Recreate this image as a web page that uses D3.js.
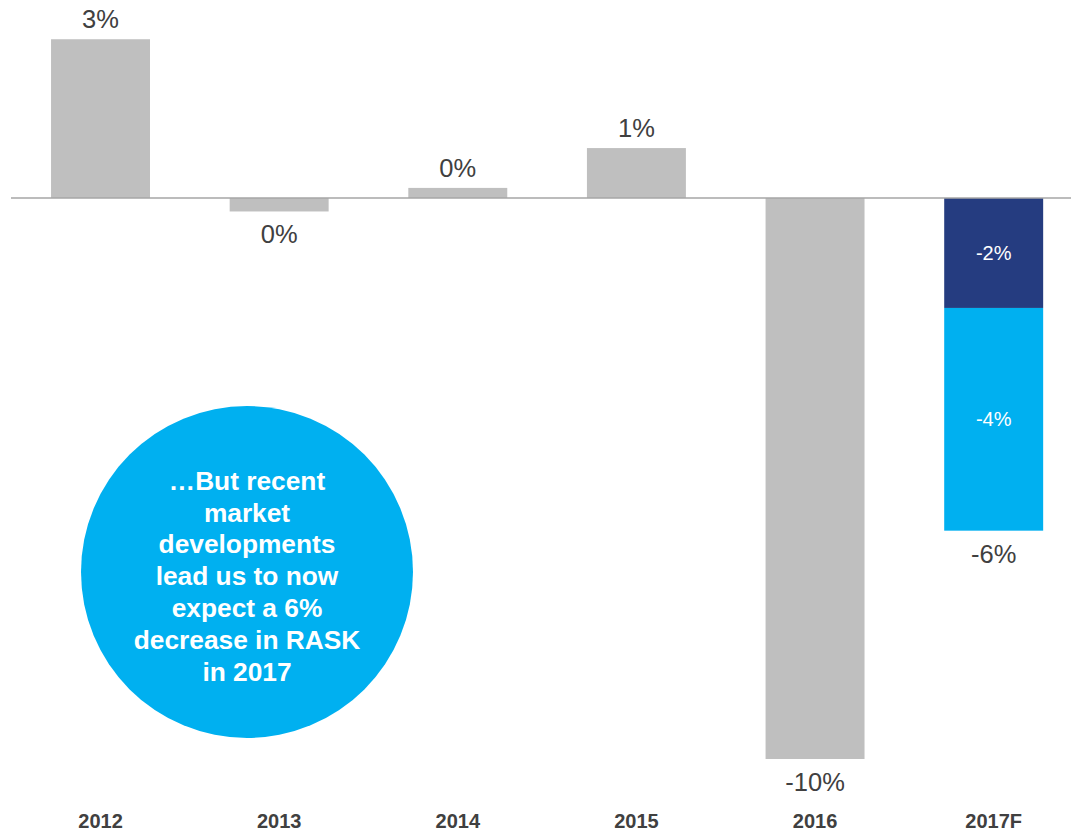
<!DOCTYPE html>
<html>
<head>
<meta charset="utf-8">
<script src="https://cdn.jsdelivr.net/npm/d3@7"></script>
<style>
  html, body { margin: 0; padding: 0; background: #ffffff; }
  svg { display: block; font-family: "Liberation Sans", Arial, sans-serif; }
</style>
</head>
<body>
<svg id="chart" width="1071" height="832"></svg>
<script>
// RASK development by year (%, change)
const years = ["2012", "2013", "2014", "2015", "2016", "2017F"];
const actualValues = [2.83, -0.24, 0.18, 0.89, -10.0, null];
// 2017 forecast split into two components
const forecastYear = "2017F";
const forecastParts = [-1.96, -3.97];
const forecastColors = ["#253C80", "#00B0F0"];
const calloutLines = [
  "\u2026But recent",
  "market",
  "developments",
  "lead us to now",
  "expect a 6%",
  "decrease in RASK",
  "in 2017"
];

const svg = d3.select("#chart");
const textColor = "#404040";
const barGrey = "#BFBFBF";

const x = d3.scaleBand()
  .domain(years)
  .range([11.2, 1083])
  .paddingInner(0.446)
  .paddingOuter(0.223);

const y = d3.scaleLinear()
  .domain([-10, 3])
  .range([759, 759 - 13 * 56.1]);

// Percent label text from a value, rounded to whole percent
const pct = v => {
  const r = Math.round(v);
  return (r === 0 ? 0 : r) + "%";
};

// Grey bars for actual years
const actual = years.map((yr, i) => ({ year: yr, value: actualValues[i] }))
  .filter(d => d.value !== null);

svg.append("g").selectAll("rect")
  .data(actual)
  .join("rect")
  .attr("x", d => x(d.year))
  .attr("width", x.bandwidth())
  .attr("y", d => y(Math.max(0, d.value)))
  .attr("height", d => Math.abs(y(d.value) - y(0)))
  .attr("fill", barGrey);

// Stacked forecast bar
let acc = 0;
const stacked = forecastParts.map((v, i) => {
  const s = { start: acc, end: acc + v, value: v, color: forecastColors[i] };
  acc += v;
  return s;
});
const forecastTotal = acc;

svg.append("g").selectAll("rect")
  .data(stacked)
  .join("rect")
  .attr("x", x(forecastYear))
  .attr("width", x.bandwidth())
  .attr("y", d => y(d.start))
  .attr("height", d => y(d.end) - y(d.start))
  .attr("fill", d => d.color);

svg.append("g").selectAll("text")
  .data(stacked)
  .join("text")
  .attr("x", x(forecastYear) + x.bandwidth() / 2)
  .attr("y", d => (y(d.start) + y(d.end)) / 2)
  .attr("dy", "0.35em")
  .attr("text-anchor", "middle")
  .attr("font-size", 20)
  .attr("fill", "#ffffff")
  .text(d => pct(d.value));

// Zero line
svg.append("line")
  .attr("x1", 11)
  .attr("x2", 1071)
  .attr("y1", y(0))
  .attr("y2", y(0))
  .attr("stroke", "#A6A6A6")
  .attr("stroke-width", 1.6);

// Value labels outside the bars
const totals = actual.concat([{ year: forecastYear, value: forecastTotal }]);
svg.append("g").selectAll("text")
  .data(totals)
  .join("text")
  .attr("x", d => x(d.year) + x.bandwidth() / 2)
  .attr("y", d => d.value >= 0 ? y(d.value) - 11 : y(d.value) + 32)
  .attr("text-anchor", "middle")
  .attr("font-size", 25.5)
  .attr("fill", textColor)
  .text(d => pct(d.value));

// Category labels
svg.append("g").selectAll("text")
  .data(years)
  .join("text")
  .attr("x", d => x(d) + x.bandwidth() / 2)
  .attr("y", 827.5)
  .attr("text-anchor", "middle")
  .attr("font-size", 20)
  .attr("font-weight", "bold")
  .attr("fill", textColor)
  .text(d => d);

// Callout bubble
const bubble = svg.append("g").attr("transform", "translate(247,572)");
bubble.append("circle")
  .attr("r", 166)
  .attr("fill", "#00B0F0");
const lineH = 31.8;
bubble.append("g").selectAll("text")
  .data(calloutLines)
  .join("text")
  .attr("x", 0)
  .attr("y", (d, i) => 4 + (i - (calloutLines.length - 1) / 2) * lineH)
  .attr("dy", "0.35em")
  .attr("text-anchor", "middle")
  .attr("font-size", 26.3)
  .attr("font-weight", "bold")
  .attr("fill", "#ffffff")
  .text(d => d);
</script>
</body>
</html>
